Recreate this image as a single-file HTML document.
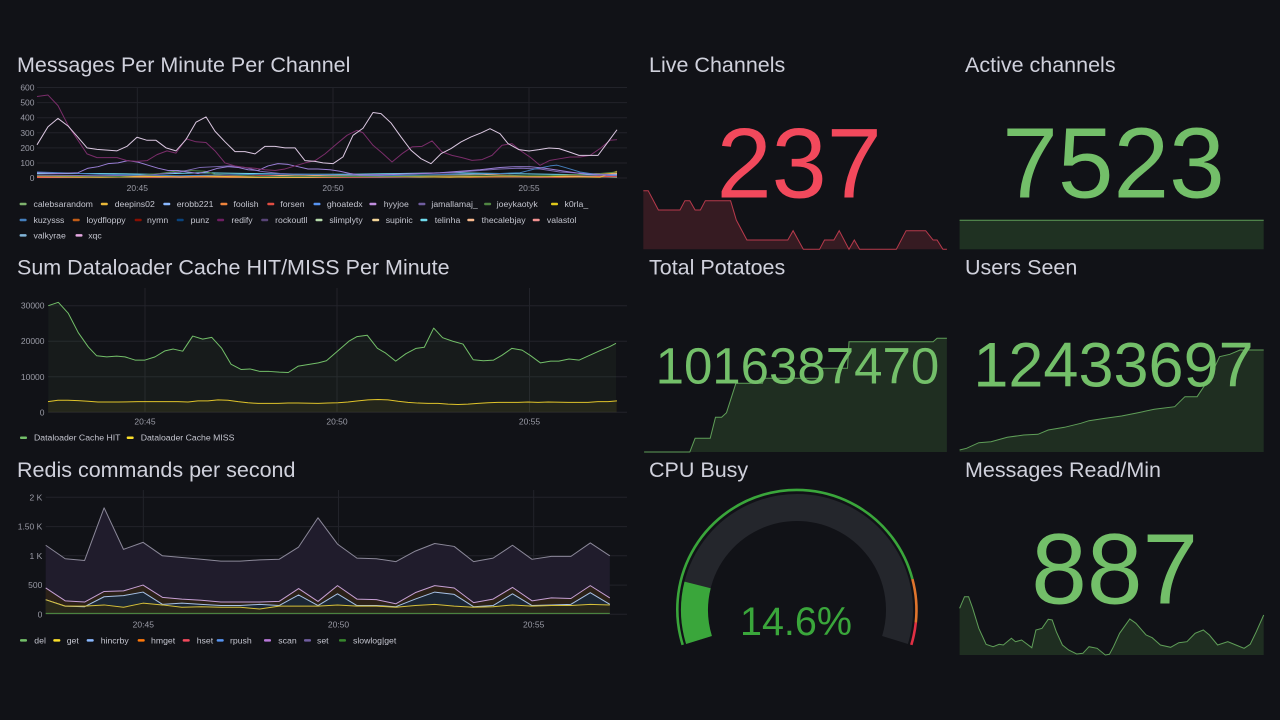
<!DOCTYPE html>
<html><head><meta charset="utf-8">
<style>
html,body{margin:0;padding:0;background:#111217;}
svg{display:block;font-family:"Liberation Sans",sans-serif;}
.t{fill:#d0d1dc;font-size:21.5px;}
.ax{fill:#9a9ba6;font-size:8.5px;}
.lg{fill:#c4c5cf;font-size:8.7px;}
.g line{stroke:#22232a;stroke-width:1;}
.d polyline,.d polygon{vector-effect:non-scaling-stroke;}
.d polyline{fill:none;stroke-width:1;stroke-linejoin:round;}
</style></head>
<body>
<svg width="1280" height="720" viewBox="0 0 1280 720" xmlns="http://www.w3.org/2000/svg">
<rect width="1280" height="720" fill="#111217"/>

<!-- ============ PANEL 1 ============ -->
<text class="t" x="17" y="72">Messages Per Minute Per Channel</text>
<g class="g">
<line x1="37" y1="87.5" x2="627" y2="87.5"/><line x1="37" y1="102.6" x2="627" y2="102.6"/>
<line x1="37" y1="117.7" x2="627" y2="117.7"/><line x1="37" y1="132.8" x2="627" y2="132.8"/>
<line x1="37" y1="147.9" x2="627" y2="147.9"/><line x1="37" y1="163" x2="627" y2="163"/>
<line x1="37" y1="178" x2="627" y2="178"/>
<line x1="137.3" y1="87" x2="137.3" y2="178"/><line x1="333" y1="87" x2="333" y2="178"/><line x1="529" y1="87" x2="529" y2="178"/>
</g>
<g class="ax" text-anchor="end">
<text x="34.5" y="90.5">600</text><text x="34.5" y="105.6">500</text><text x="34.5" y="120.7">400</text>
<text x="34.5" y="135.8">300</text><text x="34.5" y="150.9">200</text><text x="34.5" y="166">100</text><text x="34.5" y="181">0</text>
</g>
<g class="ax" text-anchor="middle"><text x="137.3" y="191">20:45</text><text x="333" y="191">20:50</text><text x="529" y="191">20:55</text></g>
<g class="d" transform="translate(0,178) scale(1,-0.15083)">
<polyline stroke="#B7DBAB" points="37,5 100,8 160,4 220,9 300,5 360,10 420,6 480,9 540,5 600,8 617,6"/>
<polyline stroke="#F29191" points="37,3 150,8 300,3 450,8 617,12"/>
<polyline stroke="#F9BA8F" points="37,10 120,15 180,5 240,10 300,20 360,10 420,15 480,25 540,10 600,30 617,30"/>
<polyline stroke="#E24D42" points="37,5 100,10 150,5 200,10 260,15 320,5 380,10 440,20 500,10 560,5 617,10"/>
<polyline stroke="#EF843C" points="37,10 80,5 130,15 170,10 230,5 300,10 360,15 420,10 470,5 530,10 580,20 617,35"/>
<polyline stroke="#EAB839" points="37,20 60,10 100,5 150,10 200,15 250,5 300,5 350,10 400,10 450,5 500,15 550,10 600,5 617,45"/>
<polyline stroke="#70DBED" points="37,30 100,30 150,25 200,35 250,30 300,25 350,25 400,30 450,35 500,30 550,25 600,20 617,25"/>
<polyline stroke="#508642" points="37,15 120,10 160,30 175,45 190,50 205,45 215,25 260,10 350,10 450,15 550,15 600,30 617,40"/>
<polyline stroke="#7b68b0" points="37,20 100,15 150,20 180,40 200,70 215,75 230,80 245,70 260,45 280,30 300,25 340,20 400,25 450,35 480,50 500,60 520,65 540,60 560,40 600,25 617,20"/>
<polyline stroke="#447EBC" points="37,40 60,35 100,25 140,20 180,15 220,20 260,25 300,25 340,20 380,15 420,20 460,25 500,30 520,35 535,60 550,80 557,85 565,70 580,40 600,20 617,15"/>
<polyline stroke="#9a7fd6" points="37,35 58,30 78,35 88,65 98,75 108,95 118,100 128,115 138,105 148,85 158,65 168,50 178,50 188,40 198,30 208,45 218,65 228,75 238,70 248,55 258,50 268,80 278,95 288,90 298,75 308,60 318,60 330,55 340,45 350,30 360,20 380,20 400,25 420,30 440,35 460,45 480,55 500,70 515,75 530,75 545,65 560,50 580,30 600,20 617,20"/>
<polyline stroke="#7a2d6a" points="37,540 48,550 58,480 68,350 78,250 87,160 97,135 107,135 117,135 127,115 137,110 147,115 157,155 167,180 176,165 186,260 196,240 206,235 215,180 225,100 235,80 245,70 255,65 265,55 275,50 285,60 295,80 305,100 315,115 325,160 337,228 347,283 357,316 363,300 373,217 383,161 392,106 402,161 412,206 422,210 432,246 442,173 452,150 462,135 472,117 482,122 492,150 502,217 512,228 520,184 530,139 540,84 550,117 560,128 570,139 580,139 590,150 600,195 610,250 617,254"/>
<polyline stroke="#dcc8e2" points="37,220 48,340 58,395 68,345 78,270 87,200 97,190 107,185 117,180 127,210 137,270 147,250 156,250 166,200 176,180 186,255 196,370 206,405 215,310 225,240 235,175 245,175 255,160 265,210 275,210 285,200 295,200 305,115 315,110 323,100 333,95 343,140 353,283 363,330 373,434 381,427 391,365 401,272 411,184 421,128 431,95 441,161 451,195 461,239 471,272 481,299 490,327 500,294 508,228 519,188 529,179 539,188 549,199 559,195 569,173 579,150 589,150 598,150 608,239 617,320"/>
</g>
<!-- legend 1 -->
<g class="lg">
<rect x="19.6" y="202.8" width="7" height="2.5" rx="1" fill="#7EB26D"/><text x="33.5" y="207">calebsarandom</text>
<rect x="100.8" y="202.8" width="7" height="2.5" rx="1" fill="#EAB839"/><text x="114.7" y="207">deepins02</text>
<rect x="163.3" y="202.8" width="7" height="2.5" rx="1" fill="#8AB8FF"/><text x="176.7" y="207">erobb221</text>
<rect x="220.4" y="202.8" width="7" height="2.5" rx="1" fill="#EF843C"/><text x="233.5" y="207">foolish</text>
<rect x="267.3" y="202.8" width="7" height="2.5" rx="1" fill="#E24D42"/><text x="280.4" y="207">forsen</text>
<rect x="313.5" y="202.8" width="7" height="2.5" rx="1" fill="#5794F2"/><text x="326.9" y="207">ghoatedx</text>
<rect x="369.4" y="202.8" width="7" height="2.5" rx="1" fill="#C08DDF"/><text x="383.7" y="207">hyyjoe</text>
<rect x="418.4" y="202.8" width="7" height="2.5" rx="1" fill="#705DA0"/><text x="431.4" y="207">jamallamaj_</text>
<rect x="484.1" y="202.8" width="7" height="2.5" rx="1" fill="#508642"/><text x="496.7" y="207">joeykaotyk</text>
<rect x="551" y="202.8" width="7" height="2.5" rx="1" fill="#E0C81A"/><text x="564.5" y="207">k0rla_</text>

<rect x="19.6" y="218.8" width="7" height="2.5" rx="1" fill="#447EBC"/><text x="33.5" y="223">kuzysss</text>
<rect x="72.7" y="218.8" width="7" height="2.5" rx="1" fill="#C15C17"/><text x="86.5" y="223">loydfloppy</text>
<rect x="134.7" y="218.8" width="7" height="2.5" rx="1" fill="#890F02"/><text x="147" y="223">nymn</text>
<rect x="176.7" y="218.8" width="7" height="2.5" rx="1" fill="#0A437C"/><text x="190.6" y="223">punz</text>
<rect x="217.1" y="218.8" width="7" height="2.5" rx="1" fill="#6D1F62"/><text x="231.4" y="223">redify</text>
<rect x="261.2" y="218.8" width="7" height="2.5" rx="1" fill="#584477"/><text x="275.1" y="223">rockoutll</text>
<rect x="315.5" y="218.8" width="7" height="2.5" rx="1" fill="#B7DBAB"/><text x="329.4" y="223">slimplyty</text>
<rect x="372.2" y="218.8" width="7" height="2.5" rx="1" fill="#F4D598"/><text x="385.7" y="223">supinic</text>
<rect x="420.4" y="218.8" width="7" height="2.5" rx="1" fill="#70DBED"/><text x="434.7" y="223">telinha</text>
<rect x="467.3" y="218.8" width="7" height="2.5" rx="1" fill="#F9BA8F"/><text x="481.6" y="223">thecalebjay</text>
<rect x="532.7" y="218.8" width="7" height="2.5" rx="1" fill="#F29191"/><text x="546.9" y="223">valastol</text>

<rect x="19.6" y="234.1" width="7" height="2.5" rx="1" fill="#82B5D8"/><text x="33.5" y="238.3">valkyrae</text>
<rect x="75.5" y="234.1" width="7" height="2.5" rx="1" fill="#E5A8E2"/><text x="88.2" y="238.3">xqc</text>
</g>

<!-- ============ PANEL 2 ============ -->
<text class="t" x="17" y="274.5">Sum Dataloader Cache HIT/MISS Per Minute</text>
<g class="g">
<line x1="48" y1="305.7" x2="627" y2="305.7"/><line x1="48" y1="341.2" x2="627" y2="341.2"/>
<line x1="48" y1="376.8" x2="627" y2="376.8"/><line x1="48" y1="412.3" x2="627" y2="412.3"/>
<line x1="145" y1="288" x2="145" y2="412.3"/><line x1="337" y1="288" x2="337" y2="412.3"/><line x1="529.5" y1="288" x2="529.5" y2="412.3"/>
</g>
<g class="ax" text-anchor="end">
<text x="44.5" y="308.7">30000</text><text x="44.5" y="344.2">20000</text><text x="44.5" y="379.8">10000</text><text x="44.5" y="415.3">0</text>
</g>
<g class="ax" text-anchor="middle"><text x="145" y="424.7">20:45</text><text x="337" y="424.7">20:50</text><text x="529.5" y="424.7">20:55</text></g>
<g class="d" transform="translate(0,412.3) scale(1,-0.0035533)">
<polygon fill="#73BF69" fill-opacity="0.06" stroke="none" points="48.3,0 48.3,30000 58.3,30950 68.3,27850 78.3,22400 88.3,18400 96.7,15900 106.7,15600 116.7,15800 125,15600 135,14700 145,14700 155,15600 165,17300 173.3,17800 182.7,17200 192.7,21450 202.7,20600 211.7,21100 221.7,18000 231,13550 241,12050 250,12200 260,11500 269.3,11500 279.3,11300 288.3,11200 298.3,13000 308.3,13450 318.3,13900 326.4,14500 338.7,17500 348.9,20000 357,21300 367.2,21700 377.4,18000 385.5,16700 395.7,14400 405.9,16500 416.1,18000 424.3,18300 433.7,23700 442.6,21000 452.8,20000 463,19200 473.2,14800 483.4,14500 493.6,14700 501.7,16000 511.9,18000 522.1,17500 530.3,16000 540.5,13900 550.7,14400 558.8,14400 569,15000 579.2,14700 589.4,16000 599.6,17300 609.8,18500 616,19400 616,0"/>
<polygon fill="#FADE2A" fill-opacity="0.06" stroke="none" points="48,0 48,3000 58,3400 68,3400 78,3300 88,3100 98,2900 118,2900 138,3000 158,3000 178,3000 188,2900 198,3200 208,3200 218,3500 228,3400 238,3000 248,2700 258,2500 278,2500 288,2600 298,2600 318,2500 328,2600 338,2700 348,2900 358,3200 368,3500 378,3600 388,3500 398,3100 408,2800 418,2600 428,2500 438,2500 448,2300 458,2200 468,2300 478,2500 488,2700 498,2800 518,2800 528,2900 538,2800 548,2900 568,2800 588,2800 598,3000 608,3000 617,3200 617,0"/>
<polyline stroke="#73BF69" points="48.3,30000 58.3,30950 68.3,27850 78.3,22400 88.3,18400 96.7,15900 106.7,15600 116.7,15800 125,15600 135,14700 145,14700 155,15600 165,17300 173.3,17800 182.7,17200 192.7,21450 202.7,20600 211.7,21100 221.7,18000 231,13550 241,12050 250,12200 260,11500 269.3,11500 279.3,11300 288.3,11200 298.3,13000 308.3,13450 318.3,13900 326.4,14500 338.7,17500 348.9,20000 357,21300 367.2,21700 377.4,18000 385.5,16700 395.7,14400 405.9,16500 416.1,18000 424.3,18300 433.7,23700 442.6,21000 452.8,20000 463,19200 473.2,14800 483.4,14500 493.6,14700 501.7,16000 511.9,18000 522.1,17500 530.3,16000 540.5,13900 550.7,14400 558.8,14400 569,15000 579.2,14700 589.4,16000 599.6,17300 609.8,18500 616,19400"/>
<polyline stroke="#E0C42A" points="48,3000 58,3400 68,3400 78,3300 88,3100 98,2900 118,2900 138,3000 158,3000 178,3000 188,2900 198,3200 208,3200 218,3500 228,3400 238,3000 248,2700 258,2500 278,2500 288,2600 298,2600 318,2500 328,2600 338,2700 348,2900 358,3200 368,3500 378,3600 388,3500 398,3100 408,2800 418,2600 428,2500 438,2500 448,2300 458,2200 468,2300 478,2500 488,2700 498,2800 518,2800 528,2900 538,2800 548,2900 568,2800 588,2800 598,3000 608,3000 617,3200"/>
</g>
<g class="lg">
<rect x="20" y="436.5" width="7" height="2.5" rx="1" fill="#73BF69"/><text x="34" y="440.7">Dataloader Cache HIT</text>
<rect x="126.7" y="436.5" width="7" height="2.5" rx="1" fill="#FADE2A"/><text x="140.7" y="440.7">Dataloader Cache MISS</text>
</g>

<!-- ============ PANEL 3 ============ -->
<text class="t" x="17" y="477">Redis commands per second</text>
<g class="g">
<line x1="45.7" y1="497.3" x2="627" y2="497.3"/><line x1="45.7" y1="526.6" x2="627" y2="526.6"/>
<line x1="45.7" y1="555.8" x2="627" y2="555.8"/><line x1="45.7" y1="585.1" x2="627" y2="585.1"/>
<line x1="45.7" y1="614.3" x2="627" y2="614.3"/>
<line x1="143.3" y1="490" x2="143.3" y2="614.3"/><line x1="338.5" y1="490" x2="338.5" y2="614.3"/><line x1="533.7" y1="490" x2="533.7" y2="614.3"/>
</g>
<g class="ax" text-anchor="end">
<text x="42.3" y="500.3">2 K</text><text x="42.3" y="529.6">1.50 K</text><text x="42.3" y="558.8">1 K</text><text x="42.3" y="588.1">500</text><text x="42.3" y="617.3">0</text>
</g>
<g class="ax" text-anchor="middle"><text x="143.3" y="627.3">20:45</text><text x="338.5" y="627.3">20:50</text><text x="533.7" y="627.3">20:55</text></g>
<g class="d" transform="translate(0,614.3) scale(1,-0.0585)">
<polygon fill="#201c2c" stroke="none" points="45.7,0 45.7,1180 65.2,950 84.6,920 104.1,1820 123.5,1110 143,1230 162.4,1000 181.9,970 201.3,940 220.8,910 240.2,910 259.7,930 279.1,940 298.6,1150 318,1650 337.5,1200 356.9,960 376.4,950 395.8,900 415.3,1080 434.7,1210 454.2,1160 473.6,900 493.1,960 512.5,1180 532,940 551.4,990 570.9,990 590.3,1220 609.8,1000 609.8,0"/>
<polygon fill="#2b2118" stroke="none" points="45.7,0 45.7,450 65.2,230 84.6,210 104.1,390 123.5,400 143,500 162.4,290 181.9,260 201.3,240 220.8,210 240.2,210 259.7,210 279.1,220 298.6,440 318,220 337.5,490 356.9,260 376.4,250 395.8,180 415.3,370 434.7,490 454.2,450 473.6,200 493.1,260 512.5,460 532,230 551.4,280 570.9,270 590.3,490 609.8,280 609.8,0"/>
<polygon fill="#1b2634" stroke="none" points="45.7,0 45.7,250 65.2,140 84.6,130 104.1,300 123.5,320 143,380 162.4,170 181.9,190 201.3,170 220.8,150 240.2,150 259.7,170 279.1,150 298.6,330 318,150 337.5,350 356.9,150 376.4,150 395.8,130 415.3,260 434.7,380 454.2,340 473.6,130 493.1,150 512.5,350 532,150 551.4,160 570.9,170 590.3,370 609.8,170 609.8,0"/>
<polygon fill="#28271a" stroke="none" points="45.7,0 45.7,250 65.2,140 84.6,140 104.1,160 123.5,120 143,190 162.4,160 181.9,120 201.3,130 220.8,120 240.2,120 259.7,90 279.1,140 298.6,140 318,140 337.5,160 356.9,140 376.4,140 395.8,120 415.3,150 434.7,170 454.2,140 473.6,120 493.1,130 512.5,160 532,140 551.4,150 570.9,150 590.3,170 609.8,160 609.8,0"/>
<polyline stroke="#8b8899" points="45.7,1180 65.2,950 84.6,920 104.1,1820 123.5,1110 143,1230 162.4,1000 181.9,970 201.3,940 220.8,910 240.2,910 259.7,930 279.1,940 298.6,1150 318,1650 337.5,1200 356.9,960 376.4,950 395.8,900 415.3,1080 434.7,1210 454.2,1160 473.6,900 493.1,960 512.5,1180 532,940 551.4,990 570.9,990 590.3,1220 609.8,1000"/>
<polyline stroke="#c6a0d6" points="45.7,450 65.2,230 84.6,210 104.1,390 123.5,400 143,500 162.4,290 181.9,260 201.3,240 220.8,210 240.2,210 259.7,210 279.1,220 298.6,440 318,220 337.5,490 356.9,260 376.4,250 395.8,180 415.3,370 434.7,490 454.2,450 473.6,200 493.1,260 512.5,460 532,230 551.4,280 570.9,270 590.3,490 609.8,280"/>
<polyline stroke="#a7c1e4" points="45.7,250 65.2,140 84.6,130 104.1,300 123.5,320 143,380 162.4,170 181.9,190 201.3,170 220.8,150 240.2,150 259.7,170 279.1,150 298.6,330 318,150 337.5,350 356.9,150 376.4,150 395.8,130 415.3,260 434.7,380 454.2,340 473.6,130 493.1,150 512.5,350 532,150 551.4,160 570.9,170 590.3,370 609.8,170"/>
<polyline stroke="#d6c03a" points="45.7,250 65.2,140 84.6,140 104.1,160 123.5,120 143,190 162.4,160 181.9,120 201.3,130 220.8,120 240.2,120 259.7,90 279.1,140 298.6,140 318,140 337.5,160 356.9,140 376.4,140 395.8,120 415.3,150 434.7,170 454.2,140 473.6,120 493.1,130 512.5,160 532,140 551.4,150 570.9,150 590.3,170 609.8,160"/>
<polyline stroke="#4f8f46" points="45.7,15 609.8,15"/>
</g>
<g class="lg">
<rect x="20" y="639.1" width="7" height="2.5" rx="1" fill="#73BF69"/><text x="34.3" y="643.3">del</text>
<rect x="53.3" y="639.1" width="7" height="2.5" rx="1" fill="#FADE2A"/><text x="66.7" y="643.3">get</text>
<rect x="86.7" y="639.1" width="7" height="2.5" rx="1" fill="#8AB8FF"/><text x="100.7" y="643.3">hincrby</text>
<rect x="137.7" y="639.1" width="7" height="2.5" rx="1" fill="#FF780A"/><text x="151" y="643.3">hmget</text>
<rect x="182.7" y="639.1" width="7" height="2.5" rx="1" fill="#F2495C"/><text x="196.7" y="643.3">hset</text>
<rect x="216.7" y="639.1" width="7" height="2.5" rx="1" fill="#5794F2"/><text x="230" y="643.3">rpush</text>
<rect x="264" y="639.1" width="7" height="2.5" rx="1" fill="#B877D9"/><text x="278.3" y="643.3">scan</text>
<rect x="304" y="639.1" width="7" height="2.5" rx="1" fill="#705DA0"/><text x="317" y="643.3">set</text>
<rect x="339" y="639.1" width="7" height="2.5" rx="1" fill="#37872D"/><text x="353" y="643.3">slowlog|get</text>
</g>

<!-- ============ STAT: Live Channels ============ -->
<text class="t" x="649" y="72">Live Channels</text>
<polygon fill="#361b22" stroke="none" points="643.3,249.3 643.3,190.7 648.2,190.7 658.4,210 680,210 684.9,200.7 689.8,200.7 695.1,210 700.4,210 705.3,200.7 730.6,200.7 736.3,220 746.9,240 787.8,240 793.1,230.7 803.3,249.3 819.6,249.3 824.5,240 833.9,240 839.2,230.7 849,249.3 854.3,240 859.6,249.3 896.3,249.3 906.1,230.7 925.7,230.7 933.1,240 937.1,240 942.9,249.3 946.9,249.3"/>
<polyline fill="none" stroke="#b83a4c" stroke-width="1" points="643.3,190.7 648.2,190.7 658.4,210 680,210 684.9,200.7 689.8,200.7 695.1,210 700.4,210 705.3,200.7 730.6,200.7 736.3,220 746.9,240 787.8,240 793.1,230.7 803.3,249.3 819.6,249.3 824.5,240 833.9,240 839.2,230.7 849,249.3 854.3,240 859.6,249.3 896.3,249.3 906.1,230.7 925.7,230.7 933.1,240 937.1,240 942.9,249.3 946.9,249.3"/>
<text x="799.2" y="197.3" text-anchor="middle" font-size="99" fill="#F2495C">237</text>

<!-- ============ STAT: Active channels ============ -->
<text class="t" x="965" y="72">Active channels</text>
<rect x="959.6" y="220.3" width="304.1" height="29" fill="#1f3122"/>
<line x1="959.6" y1="220.3" x2="1263.7" y2="220.3" stroke="#5f9e58" stroke-width="1"/>
<text x="1113.5" y="197.3" text-anchor="middle" font-size="100" fill="#73BF69">7523</text>

<!-- ============ STAT: Total Potatoes ============ -->
<text class="t" x="649" y="274.5">Total Potatoes</text>
<polygon fill="#1f2e21" stroke="none" points="644.1,452 689.8,452 695.1,438.3 710.2,438.3 715.5,417.3 721.6,417.3 726.5,412.7 735.9,383.3 762.4,383.3 764,378.3 820,378.3 821.6,368.3 847.5,368.3 849,341.7 933.1,341.7 937.1,338.3 946.9,338.3 946.9,452"/>
<polyline fill="none" stroke="#5f9e58" stroke-width="1" points="644.1,452 689.8,452 695.1,438.3 710.2,438.3 715.5,417.3 721.6,417.3 726.5,412.7 735.9,383.3 762.4,383.3 764,378.3 820,378.3 821.6,368.3 847.5,368.3 849,341.7 933.1,341.7 937.1,338.3 946.9,338.3"/>
<text x="797.4" y="383.3" text-anchor="middle" font-size="51" fill="#73BF69">1016387470</text>

<!-- ============ STAT: Users Seen ============ -->
<text class="t" x="965" y="274.5">Users Seen</text>
<polygon fill="#1f2e21" stroke="none" points="959.6,452 959.6,450 966.5,448.3 978.8,442.7 991,441.7 1007.3,437.3 1023.7,435 1038,434.3 1048.2,430 1064.5,427.3 1080.8,423.3 1089,420.7 1105.3,418.3 1121.6,416 1138,412.7 1154.3,409.3 1174.7,406.7 1184.9,396.7 1197.1,396.7 1209.4,378.3 1219.6,356.7 1229.8,354.3 1240,350 1263.7,350 1263.7,452"/>
<polyline fill="none" stroke="#5f9e58" stroke-width="1" points="959.6,450 966.5,448.3 978.8,442.7 991,441.7 1007.3,437.3 1023.7,435 1038,434.3 1048.2,430 1064.5,427.3 1080.8,423.3 1089,420.7 1105.3,418.3 1121.6,416 1138,412.7 1154.3,409.3 1174.7,406.7 1184.9,396.7 1197.1,396.7 1209.4,378.3 1219.6,356.7 1229.8,354.3 1240,350 1263.7,350"/>
<text x="1113.5" y="386.7" text-anchor="middle" font-size="63" fill="#73BF69">12433697</text>

<!-- ============ GAUGE: CPU Busy ============ -->
<text class="t" x="649" y="477">CPU Busy</text>
<path d="M682.7,644.9 A119.5,119.5 0 1 1 912.4,579.1" fill="none" stroke="#3aa63b" stroke-width="2.6"/>
<path d="M912.4,579.1 A119.5,119.5 0 0 1 915.8,622.5" fill="none" stroke="#e0752d" stroke-width="2.6"/>
<path d="M915.8,622.5 A119.5,119.5 0 0 1 911.3,644.9" fill="none" stroke="#e02f44" stroke-width="2.6"/>
<path d="M699,640 A102.5,102.5 0 1 1 895,640" fill="none" stroke="#24262c" stroke-width="27"/>
<path d="M699,640 A102.5,102.5 0 0 1 697.6,584.9" fill="none" stroke="#3aa63b" stroke-width="27"/>
<text x="796" y="635" text-anchor="middle" font-size="39.5" fill="#3aa63b">14.6%</text>

<!-- ============ STAT: Messages Read/Min ============ -->
<text class="t" x="965" y="477">Messages Read/Min</text>
<polygon fill="#1f2e21" stroke="none" points="959.6,655 959.6,608.3 964.5,596.7 968.6,596.7 972.7,608.3 978.8,628.3 986.1,644.3 993.1,646.7 999.2,644.3 1003.3,645 1011.4,638.3 1015.5,641.7 1021.6,640 1031.8,647.7 1035.9,630 1042,628.3 1048.2,619.3 1052.2,620 1056.3,631.7 1062.4,645 1068.6,650 1076.7,654 1082.9,653.3 1089,646.7 1097.1,648.3 1105.3,655 1109.4,654.3 1113.5,646.7 1119.6,633.3 1129.8,619 1135.9,623.3 1146.1,635 1152.2,637.7 1160.4,645 1170.6,647.3 1178.8,642.7 1186.9,641.7 1195.1,633.3 1203.3,630 1209.4,635 1217.6,645 1227.8,641.7 1235.9,645 1244.1,648.3 1250.2,644.3 1256.3,631.7 1263.7,615 1263.7,655"/>
<polyline fill="none" stroke="#5f9e58" stroke-width="1" points="959.6,608.3 964.5,596.7 968.6,596.7 972.7,608.3 978.8,628.3 986.1,644.3 993.1,646.7 999.2,644.3 1003.3,645 1011.4,638.3 1015.5,641.7 1021.6,640 1031.8,647.7 1035.9,630 1042,628.3 1048.2,619.3 1052.2,620 1056.3,631.7 1062.4,645 1068.6,650 1076.7,654 1082.9,653.3 1089,646.7 1097.1,648.3 1105.3,655 1109.4,654.3 1113.5,646.7 1119.6,633.3 1129.8,619 1135.9,623.3 1146.1,635 1152.2,637.7 1160.4,645 1170.6,647.3 1178.8,642.7 1186.9,641.7 1195.1,633.3 1203.3,630 1209.4,635 1217.6,645 1227.8,641.7 1235.9,645 1244.1,648.3 1250.2,644.3 1256.3,631.7 1263.7,615"/>
<text x="1114.7" y="603.3" text-anchor="middle" font-size="100" fill="#73BF69">887</text>
</svg>
</body></html>
